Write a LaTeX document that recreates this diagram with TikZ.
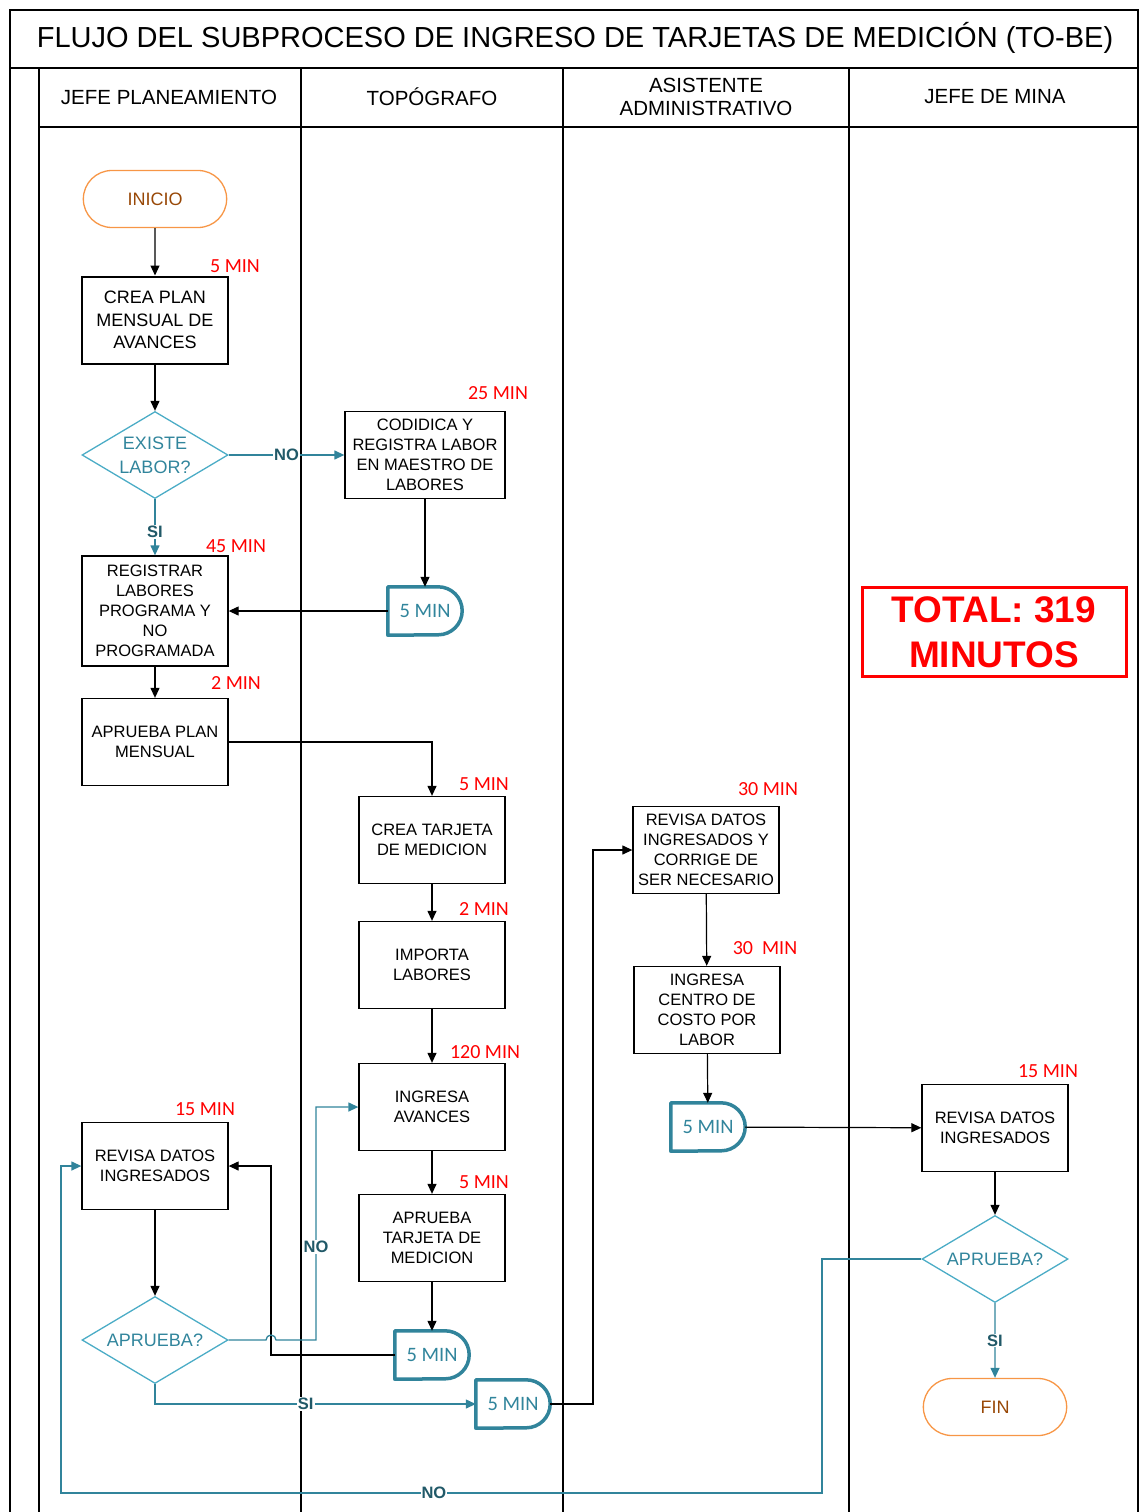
\documentclass[tikz,border=0pt]{standalone}
\usepackage{fontspec}
\setmainfont{Liberation Sans}
\newfontfamily\calfont{Carlito}
\usetikzlibrary{arrows.meta,shapes.geometric,shapes.misc,calc}
\definecolor{tealln}{HTML}{31849B}
\definecolor{tealtx}{HTML}{31859C}
\definecolor{tealdk}{HTML}{215968}
\definecolor{lblue}{HTML}{4BACC6}
\definecolor{orng}{HTML}{F79646}
\definecolor{brn}{HTML}{984807}
\tikzset{
  lane/.style={line width=1.6pt, draw=black},
  box/.style={draw, line width=1.3pt, minimum width=146pt, minimum height=87pt, align=center, inner sep=2pt, font=\fontsize{16.5}{20}\selectfont},
  dia/.style={diamond, draw=lblue, line width=1.3pt, aspect=1.68, inner sep=0pt, minimum width=146pt, minimum height=87pt, align=center, text=tealtx, font=\fontsize{18}{24}\selectfont},
  stad/.style={rounded rectangle, draw=orng, line width=1.3pt, minimum width=146pt, minimum height=57pt, text=brn, font=\fontsize{18}{20}\selectfont},
  dly/.style={minimum width=74pt, minimum height=48pt, inner sep=0pt, text=tealtx, font=\calfont\fontsize{20.5}{22}\selectfont},
  dlyline/.style={draw=tealln, line width=3.5pt, line join=round},
  tm/.style={text=red, font=\calfont\fontsize{20}{22}\selectfont},
  lbl/.style={fill=white, inner sep=1pt, text=tealdk, font=\bfseries\fontsize{16.5}{18}\selectfont},
  arr/.style={-{Triangle[length=10pt,width=9pt]}, line width=1.2pt, draw=black},
  tarr/.style={-{Triangle[length=10pt,width=9pt]}, line width=1.3pt, draw=tealln},
  hdr/.style={align=center, font=\fontsize{20.5}{23}\selectfont}
}
\newcommand\dlyshape[1]{\draw[dlyline] (#1.south west) -- (#1.north west) -- ([xshift=-24pt]#1.north east) arc[start angle=90,end angle=-90,radius=24pt] -- cycle;}
\begin{document}
\begin{tikzpicture}[x=1pt,y=-1pt]
\useasboundingbox (0,0) rectangle (1139,1512);
% frame and lanes
\draw[lane] (10,1512) -- (10,10) -- (1138,10) -- (1138,1512);
\draw[lane] (10,68) -- (1138,68);
\draw[lane] (39,127) -- (1138,127);
\foreach \xx in {39,301,563,849} \draw[lane] (\xx,68) -- (\xx,1512);
\node[font=\fontsize{29}{31}\selectfont] (title) at (575,38) {FLUJO DEL SUBPROCESO DE INGRESO DE TARJETAS DE MEDICIÓN (TO-BE)};
\node[hdr] (h1) at (169,97) {JEFE PLANEAMIENTO};
\node[hdr] (h2) at (432,97) {TOPÓGRAFO};
\node[hdr] (h3) at (706,97) {ASISTENTE\\ADMINISTRATIVO};
\node[hdr] (h4) at (995,97) {JEFE DE MINA};
% nodes
\node[stad, minimum width=150pt] (inicio) at (155,199) {INICIO};
\node[box, line width=2pt, font=\fontsize{18}{22.5}\selectfont] (crea) at (155,320) {CREA PLAN\\MENSUAL DE\\AVANCES};
\node[dia] (existe) at (155,455) {EXISTE\\LABOR?};
\node[box, minimum width=160pt] (codi) at (425,455) {CODIDICA Y\\REGISTRA LABOR\\EN MAESTRO DE\\LABORES};
\node[dly] (d1) at (425,611) {5 MIN};
\node[box, minimum height=110pt] (regis) at (155,611) {REGISTRAR\\LABORES\\PROGRAMA Y\\NO\\PROGRAMADA};
\node[box] (aplan) at (155,742) {APRUEBA PLAN\\MENSUAL};
\node[box] (ctar) at (432,840) {CREA TARJETA\\DE MEDICION};
\node[box] (imp) at (432,965) {IMPORTA\\LABORES};
\node[box] (ingav) at (432,1107) {INGRESA\\AVANCES};
\node[box] (aptar) at (432,1238) {APRUEBA\\TARJETA DE\\MEDICION};
\node[dly] (d2) at (432,1355) {5 MIN};
\node[box] (revL) at (155,1166) {REVISA DATOS\\INGRESADOS};
\node[dia] (apL) at (155,1340) {APRUEBA?};
\node[dly] (d3) at (513,1404) {5 MIN};
\node[box] (revC) at (706,850) {REVISA DATOS\\INGRESADOS Y\\CORRIGE DE\\SER NECESARIO};
\node[box] (ingc) at (707,1010) {INGRESA\\CENTRO DE\\COSTO POR\\LABOR};
\node[dly] (d4) at (708,1127) {5 MIN};
\node[box] (revR) at (995,1128) {REVISA DATOS\\INGRESADOS};
\node[dia] (apR) at (995,1259) {APRUEBA?};
\node[stad, minimum width=150pt] (fin) at (995,1407) {FIN};
\dlyshape{d1}\dlyshape{d2}\dlyshape{d3}\dlyshape{d4}
% time labels
\node[tm] (t1) at (235,266) {5 MIN};
\node[tm] (t2) at (498,393) {25 MIN};
\node[tm] (t3) at (236,546) {45 MIN};
\node[tm] (t4) at (236,683) {2 MIN};
\node[tm] (t5) at (484,784) {5 MIN};
\node[tm] (t6) at (484,909) {2 MIN};
\node[tm] (t7) at (485,1052) {120 MIN};
\node[tm] (t8) at (484,1182) {5 MIN};
\node[tm] (t9) at (205,1109) {15 MIN};
\node[tm] (t10) at (768,789) {30 MIN};
\node[tm] (t11) at (765,948) {30\ \ MIN};
\node[tm] (t12) at (1048,1071) {15 MIN};
\node[draw=red, line width=3pt, minimum width=264pt, minimum height=89pt, text=red, align=center, font=\bfseries\fontsize{37}{45}\selectfont] (total) at (994,632) {TOTAL: 319\\MINUTOS};
% connectors
\draw[arr] (inicio) -- (crea);
\draw[arr] (crea) -- (existe);
\draw[tarr] (existe) -- node[lbl]{NO} (codi);
\draw[tarr] (existe) -- node[lbl,pos=0.59]{SI} (regis);
\draw[arr] (codi) -- (d1);
\draw[arr] (d1) -- (regis);
\draw[arr] (regis) -- (aplan);
\draw[arr] (aplan.east) -| (ctar.north);
\draw[arr] (ctar) -- (imp);
\draw[arr] (imp) -- (ingav);
\draw[arr] (ingav) -- (aptar);
\draw[arr] (aptar) -- (d2);
\draw[arr] (d2.west) -- (271,1355) -- (271,1166) -- (revL.east);
\draw[arr] (revL) -- (apL);
\draw[tarr] (apL.east) -- (266,1340) arc[start angle=180,end angle=0,radius=5pt] -- (316,1340) -- node[lbl,pos=0.4]{NO} (316,1107) -- (ingav.west);
\draw[tarr] (apL.south) -- (155,1404) -- node[lbl,pos=0.47]{SI} (d3.west);
\draw[arr] (d3.east) -- (593,1404) |- (revC.west);
\draw[arr] (revC) -- (ingc);
\draw[arr] (ingc) -- (d4);
\draw[arr] (d4) -- (revR);
\draw[arr] (revR) -- (apR);
\draw[tarr] (apR) -- node[lbl,pos=0.5]{SI} (fin);
\draw[tarr] (apR.west) -- (822,1259) -- (822,1493) -- node[lbl,pos=0.51]{NO} (61,1493) -- (61,1166) -- (revL.west);
\end{tikzpicture}
\end{document}
